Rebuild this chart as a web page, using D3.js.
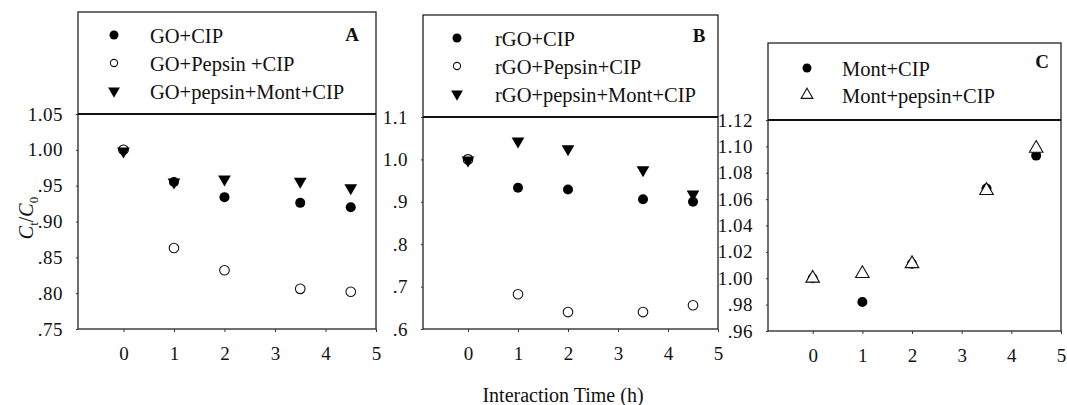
<!DOCTYPE html>
<html>
<head>
<meta charset="utf-8">
<script src="https://cdn.jsdelivr.net/npm/d3@7"></script>
<style>
  body { margin: 0; background: #fff; }
  text { font-family: "Liberation Serif", "Times New Roman", serif; fill: #111; }
</style>
</head>
<body>
<div id="chart"></div>
<script>
// time points (h)
let times = [0, 1, 2, 3.5, 4.5];
let xTicks = [0, 1, 2, 3, 4, 5];

// panel A
let goCip = [1.000, 0.955, 0.934, 0.926, 0.920];
let goPepsinCip = [1.000, 0.863, 0.832, 0.806, 0.802];
let goPepsinMontCip = [0.998, 0.955, 0.959, 0.956, 0.947];
let yTicksA = [0.75, 0.80, 0.85, 0.90, 0.95, 1.00, 1.05];

// panel B
let rgoCip = [1.000, 0.933, 0.929, 0.906, 0.900];
let rgoPepsinCip = [1.000, 0.682, 0.640, 0.640, 0.656];
let rgoPepsinMontCip = [0.998, 1.043, 1.025, 0.975, 0.918];
let yTicksB = [0.6, 0.7, 0.8, 0.9, 1.0, 1.1];

// panel C
let montCip = [1.000, 0.982, 1.011, 1.068, 1.093];
let montPepsinCip = [1.000, 1.0035, 1.011, 1.0665, 1.0985];
let yTicksC = [0.96, 0.98, 1.00, 1.02, 1.04, 1.06, 1.08, 1.10, 1.12];

let svg = d3.select("#chart").append("svg")
  .attr("width", 1067).attr("height", 405);

// ".95" style labels (no leading zero)
function fmt(dec) {
  return function(v) {
    let s = v.toFixed(dec);
    return v < 1 ? s.replace(/^0/, "") : s;
  }
}

function drawMark(g, type, px, py, legend) {
  if (type === "dot") {
    g.append("circle").attr("cx", px).attr("cy", py).attr("r", legend ? 4.5 : 5)
      .attr("fill", "#000");
  } else if (type === "ring") {
    g.append("circle").attr("cx", px).attr("cy", py).attr("r", legend ? 3.6 : 4.8)
      .attr("fill", "#fff").attr("stroke", "#111").attr("stroke-width", 1.1);
  } else if (type === "tridown") {
    g.append("path").attr("d", d3.symbol(d3.symbolTriangle, legend ? 60 : 70)())
      .attr("transform", "translate(" + px + "," + py + ") rotate(180)")
      .attr("fill", "#000");
  } else if (type === "triup") {
    g.append("path").attr("d", d3.symbol(d3.symbolTriangle, legend ? 60 : 80)())
      .attr("transform", "translate(" + px + "," + py + ")")
      .attr("fill", "#fff").attr("stroke", "#111").attr("stroke-width", 1.1);
  }
}

function panel(p) {
  let g = svg.append("g");

  let x = d3.scaleLinear().domain([-0.9, 5]).range([p.left, p.right]);
  let y = d3.scaleLinear().domain(p.yDomain).range([p.bottom, p.top]);

  // frame around legend + plot
  g.append("rect")
    .attr("x", p.left).attr("y", p.boxTop)
    .attr("width", p.right - p.left).attr("height", p.bottom - p.boxTop)
    .attr("fill", "none").attr("stroke", "#222").attr("stroke-width", 1.3);
  g.append("line")
    .attr("x1", p.left).attr("x2", p.right).attr("y1", p.top).attr("y2", p.top)
    .attr("stroke", "#111").attr("stroke-width", 1.8);

  // axes
  let xa = g.append("g").attr("transform", "translate(0," + p.bottom + ")")
    .call(d3.axisBottom(x).tickValues(xTicks).tickSize(3).tickPadding(15).tickFormat(d3.format("d")));
  xa.select(".domain").remove();
  xa.selectAll("text").attr("font-size", 19).attr("font-family", "Liberation Serif");
  xa.selectAll(".tick line").attr("stroke", "#333");

  let ya = g.append("g").attr("transform", "translate(" + p.left + ",0)")
    .call(d3.axisLeft(y).tickValues(p.yTicks).tickSize(2).tickPadding(13).tickFormat(fmt(p.dec)));
  ya.select(".domain").remove();
  ya.selectAll("text").attr("font-size", 19).attr("font-family", "Liberation Serif")
    .attr("letter-spacing", "0.5px");
  ya.selectAll(".tick line").attr("stroke", "#333");

  // data points
  p.series.forEach(function(s) {
    s.values.forEach(function(v, i) {
      drawMark(g, s.type, x(times[i]), y(v), false);
    });
  });

  // legend
  p.series.forEach(function(s, i) {
    let ly = p.legendY + i * p.legendStep;
    drawMark(g, s.type, p.legendMarkX, ly, true);
    g.append("text").attr("x", p.legendTextX).attr("y", ly + 7.5)
      .attr("font-size", 20.5).text(s.name);
  });

  g.append("text").attr("x", p.letterX).attr("y", p.letterY)
    .attr("text-anchor", "middle").attr("font-size", 19).attr("font-weight", "bold")
    .text(p.letter);
}

panel({
  left: 78, right: 376, top: 114, bottom: 329, boxTop: 12,
  yDomain: [0.75, 1.05], yTicks: yTicksA, dec: 2,
  legendMarkX: 114, legendTextX: 150, legendY: 35, legendStep: 28,
  letter: "A", letterX: 352, letterY: 41,
  series: [
    { name: "GO+CIP", type: "dot", values: goCip },
    { name: "GO+Pepsin +CIP", type: "ring", values: goPepsinCip },
    { name: "GO+pepsin+Mont+CIP", type: "tridown", values: goPepsinMontCip }
  ]
});

panel({
  left: 423, right: 718, top: 117, bottom: 329, boxTop: 15,
  yDomain: [0.6, 1.1], yTicks: yTicksB, dec: 1,
  legendMarkX: 457, legendTextX: 495, legendY: 38, legendStep: 28,
  letter: "B", letterX: 699, letterY: 42,
  series: [
    { name: "rGO+CIP", type: "dot", values: rgoCip },
    { name: "rGO+Pepsin+CIP", type: "ring", values: rgoPepsinCip },
    { name: "rGO+pepsin+Mont+CIP", type: "tridown", values: rgoPepsinMontCip }
  ]
});

panel({
  left: 768, right: 1061, top: 120, bottom: 331, boxTop: 43,
  yDomain: [0.96, 1.12], yTicks: yTicksC, dec: 2,
  legendMarkX: 807, legendTextX: 842, legendY: 68, legendStep: 27,
  letter: "C", letterX: 1042, letterY: 68,
  series: [
    { name: "Mont+CIP", type: "dot", values: montCip },
    { name: "Mont+pepsin+CIP", type: "triup", values: montPepsinCip }
  ]
});

// x axis title
svg.append("text").attr("x", 563).attr("y", 402).attr("text-anchor", "middle")
  .attr("font-size", 20).text("Interaction Time (h)");

// y axis title C_t/C_0
let yt = svg.append("text").attr("transform", "translate(33,218) rotate(-90)")
  .attr("text-anchor", "middle").attr("font-size", 20).attr("font-style", "italic");
yt.append("tspan").text("C");
yt.append("tspan").attr("font-size", 13).attr("dy", 5).attr("font-style", "normal").text("t");
yt.append("tspan").attr("dy", -5).attr("font-style", "normal").text("/");
yt.append("tspan").text("C");
yt.append("tspan").attr("font-size", 13).attr("dy", 5).attr("font-style", "normal").text("0");
</script>
</body>
</html>
